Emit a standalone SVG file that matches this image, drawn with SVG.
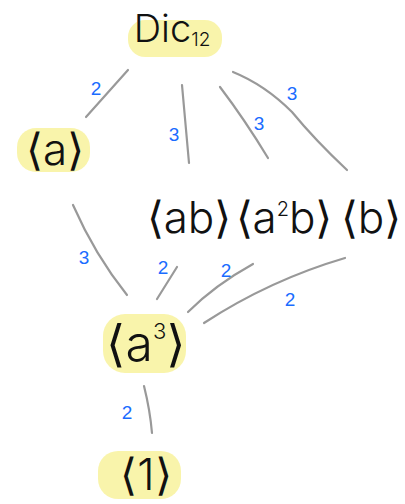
<svg xmlns="http://www.w3.org/2000/svg" width="405" height="504" viewBox="0 0 405 504">
<style>
.hl{fill:#f8f3a2;opacity:0.9}
.node{font-family:Inter,"Noto Sans CJK SC",sans-serif;font-weight:300;font-size:44px;fill:#111;text-anchor:middle}
.edge{stroke:#999;stroke-width:2.2;fill:none;stroke-linecap:round}
.lbl{font-family:"Liberation Sans",sans-serif;font-size:19px;fill:#1a6cff;text-anchor:middle}
</style>
<rect width="405" height="504" fill="#fff"/>
<g id="connectors">
<path class="edge" d="M128,70 L86,117"/>
<path class="edge" d="M182,85 L189,163"/>
<path class="edge" d="M220,87 Q245,120 268,158"/>
<path class="edge" d="M233,72 Q265,85 292,112 Q315,140 347,170"/>
<path class="edge" d="M73,205 Q95,255 127,295"/>
<path class="edge" d="M177,267 L157,299"/>
<path class="edge" d="M253,264 Q215,285 188,312"/>
<path class="edge" d="M345,258 Q270,280 204,323"/>
<path class="edge" d="M144,386 Q150,410 152,433"/>
<text class="lbl" x="96" y="95">2</text>
<text class="lbl" x="174" y="141">3</text>
<text class="lbl" x="259" y="130">3</text>
<text class="lbl" x="292" y="100">3</text>
<text class="lbl" x="84" y="264">3</text>
<text class="lbl" x="163" y="274">2</text>
<text class="lbl" x="226" y="277">2</text>
<text class="lbl" x="290" y="306">2</text>
<text class="lbl" x="127" y="419">2</text>
</g>
<g id="n-dic12">
<rect class="hl" x="128" y="20" width="94" height="37" rx="17"/>
<text class="node" x="172" y="42" style="font-size:38px">Dic<tspan style="font-size:19px" dy="4">12</tspan></text>
</g>
<g id="n-a">
<rect class="hl" x="17" y="128" width="73" height="44" rx="19"/>
<text class="node" x="55" y="165">⟨a⟩</text>
</g>
<g id="n-ab">
<text class="node" x="189" y="233">⟨ab⟩</text>
</g>
<g id="n-a2b">
<text class="node" x="284" y="233">⟨a<tspan style="font-size:20px" dy="-17">2</tspan><tspan dy="17">b⟩</tspan></text>
</g>
<g id="n-b">
<text class="node" x="371" y="233">⟨b⟩</text>
</g>
<g id="n-a3">
<rect class="hl" x="103" y="314" width="83" height="59" rx="22"/>
<text class="node" x="146" y="361" style="font-size:50px">⟨a<tspan style="font-size:22px" dy="-22">3</tspan><tspan dy="22">⟩</tspan></text>
</g>
<g id="n-1">
<rect class="hl" x="98" y="451" width="83" height="48" rx="20"/>
<text class="node" x="146" y="490">⟨1⟩</text>
</g>
</svg>
